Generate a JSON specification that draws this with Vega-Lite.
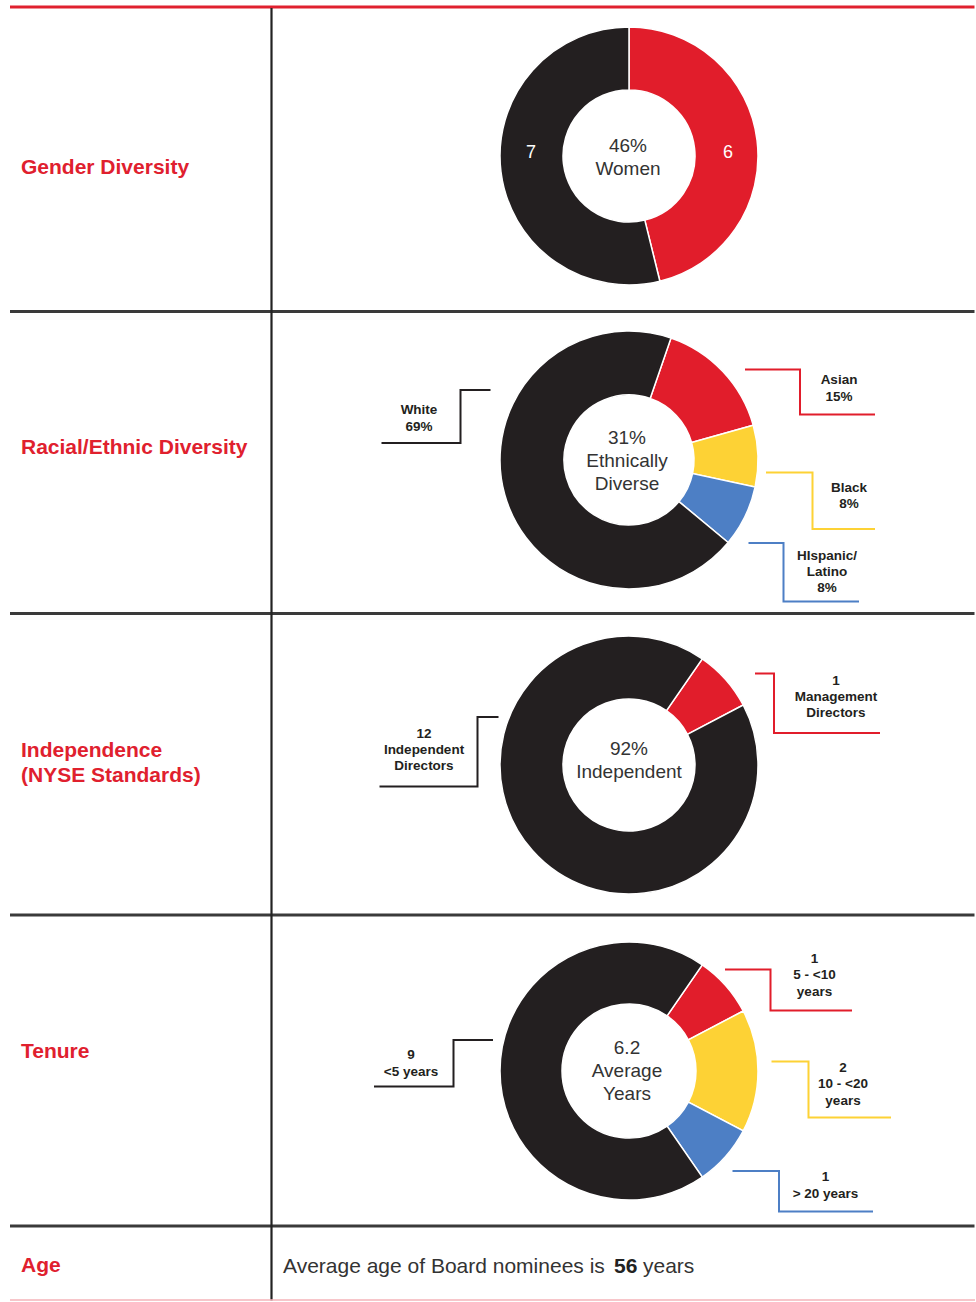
{
  "$schema": "https://vega.github.io/schema/vega-lite/v6.json",
  "width": 976,
  "height": 1302,
  "autosize": {"type": "fit", "contains": "padding"},
  "padding": 0,
  "background": "white",
  "config": {"view": {"stroke": null}, "font": "Liberation Sans"},
  "datasets": {
    "table": [
      {"kind": "red", "x1": 10, "x2": 974.5, "y1": 7, "y2": 7},
      {"kind": "dark", "x1": 10, "x2": 974.5, "y1": 311.5, "y2": 311.5},
      {"kind": "dark", "x1": 10, "x2": 974.5, "y1": 613.5, "y2": 613.5},
      {"kind": "dark", "x1": 10, "x2": 974.5, "y1": 915, "y2": 915},
      {"kind": "dark", "x1": 10, "x2": 974.5, "y1": 1226, "y2": 1226},
      {"kind": "vert", "x1": 271.5, "x2": 271.5, "y1": 8, "y2": 1300.5},
      {"kind": "pink", "x1": 10, "x2": 975, "y1": 1300, "y2": 1300}
    ],
    "panels": [
      {"chart": "gender", "cx": 629, "cy": 156},
      {"chart": "race", "cx": 629, "cy": 460},
      {"chart": "indep", "cx": 629, "cy": 765},
      {"chart": "tenure", "cx": 629, "cy": 1071}
    ],
    "segments": [
      {"chart": "gender", "seg": "Women", "n": 6, "ord": 1},
      {"chart": "gender", "seg": "Men", "n": 7, "ord": 2},
      {"chart": "race", "seg": "Asian", "n": 2, "ord": 1},
      {"chart": "race", "seg": "Black", "n": 1, "ord": 2},
      {"chart": "race", "seg": "Hispanic/Latino", "n": 1, "ord": 3},
      {"chart": "race", "seg": "White", "n": 9, "ord": 4},
      {"chart": "indep", "seg": "Management", "n": 1, "ord": 1},
      {"chart": "indep", "seg": "Independent", "n": 12, "ord": 2},
      {"chart": "tenure", "seg": "5 - <10 years", "n": 1, "ord": 1},
      {"chart": "tenure", "seg": "10 - <20 years", "n": 2, "ord": 2},
      {"chart": "tenure", "seg": "> 20 years", "n": 1, "ord": 3},
      {"chart": "tenure", "seg": "<5 years", "n": 9, "ord": 4}
    ],
    "callouts": [
      {"seg": "White", "seq": 1, "x": 490.5, "y": 390},
      {"seg": "White", "seq": 2, "x": 460.5, "y": 390},
      {"seg": "White", "seq": 3, "x": 460.5, "y": 443},
      {"seg": "White", "seq": 4, "x": 381.5, "y": 443},
      {"seg": "Asian", "seq": 1, "x": 745, "y": 369.5},
      {"seg": "Asian", "seq": 2, "x": 800, "y": 369.5},
      {"seg": "Asian", "seq": 3, "x": 800, "y": 414.5},
      {"seg": "Asian", "seq": 4, "x": 875, "y": 414.5},
      {"seg": "Black", "seq": 1, "x": 766, "y": 472.5},
      {"seg": "Black", "seq": 2, "x": 812.5, "y": 472.5},
      {"seg": "Black", "seq": 3, "x": 812.5, "y": 529},
      {"seg": "Black", "seq": 4, "x": 875, "y": 529},
      {"seg": "Hispanic/Latino", "seq": 1, "x": 748.5, "y": 543},
      {"seg": "Hispanic/Latino", "seq": 2, "x": 783.5, "y": 543},
      {"seg": "Hispanic/Latino", "seq": 3, "x": 783.5, "y": 601.5},
      {"seg": "Hispanic/Latino", "seq": 4, "x": 859, "y": 601.5},
      {"seg": "Independent", "seq": 1, "x": 498.5, "y": 717},
      {"seg": "Independent", "seq": 2, "x": 477.5, "y": 717},
      {"seg": "Independent", "seq": 3, "x": 477.5, "y": 786.5},
      {"seg": "Independent", "seq": 4, "x": 379.5, "y": 786.5},
      {"seg": "Management", "seq": 1, "x": 755, "y": 673.5},
      {"seg": "Management", "seq": 2, "x": 774, "y": 673.5},
      {"seg": "Management", "seq": 3, "x": 774, "y": 733},
      {"seg": "Management", "seq": 4, "x": 880, "y": 733},
      {"seg": "<5 years", "seq": 1, "x": 493, "y": 1040},
      {"seg": "<5 years", "seq": 2, "x": 453.5, "y": 1040},
      {"seg": "<5 years", "seq": 3, "x": 453.5, "y": 1086.5},
      {"seg": "<5 years", "seq": 4, "x": 374, "y": 1086.5},
      {"seg": "5 - <10 years", "seq": 1, "x": 725, "y": 969.5},
      {"seg": "5 - <10 years", "seq": 2, "x": 770.5, "y": 969.5},
      {"seg": "5 - <10 years", "seq": 3, "x": 770.5, "y": 1010.5},
      {"seg": "5 - <10 years", "seq": 4, "x": 852, "y": 1010.5},
      {"seg": "10 - <20 years", "seq": 1, "x": 771.5, "y": 1061.5},
      {"seg": "10 - <20 years", "seq": 2, "x": 808.5, "y": 1061.5},
      {"seg": "10 - <20 years", "seq": 3, "x": 808.5, "y": 1117.5},
      {"seg": "10 - <20 years", "seq": 4, "x": 891, "y": 1117.5},
      {"seg": "> 20 years", "seq": 1, "x": 732.5, "y": 1171},
      {"seg": "> 20 years", "seq": 2, "x": 779, "y": 1171},
      {"seg": "> 20 years", "seq": 3, "x": 779, "y": 1211.5},
      {"seg": "> 20 years", "seq": 4, "x": 873, "y": 1211.5}
    ],
    "texts": [
      {"role": "side", "text": "Gender Diversity", "x": 21, "y": 168},
      {"role": "side", "text": "Racial/Ethnic Diversity", "x": 21, "y": 448},
      {"role": "side", "text": "Independence", "x": 21, "y": 750.5},
      {"role": "side", "text": "(NYSE Standards)", "x": 21, "y": 775.5},
      {"role": "side", "text": "Tenure", "x": 21, "y": 1052},
      {"role": "side", "text": "Age", "x": 21, "y": 1265.5},
      {"role": "center", "text": "46%", "x": 628, "y": 146},
      {"role": "center", "text": "Women", "x": 628, "y": 168.5},
      {"role": "center", "text": "31%", "x": 627, "y": 437.5},
      {"role": "center", "text": "Ethnically", "x": 627, "y": 460.5},
      {"role": "center", "text": "Diverse", "x": 627, "y": 483.5},
      {"role": "center", "text": "92%", "x": 629, "y": 748.5},
      {"role": "center", "text": "Independent", "x": 629, "y": 771.5},
      {"role": "center", "text": "6.2", "x": 627, "y": 1047.5},
      {"role": "center", "text": "Average", "x": 627, "y": 1070.5},
      {"role": "center", "text": "Years", "x": 627, "y": 1093.5},
      {"role": "count", "text": "7", "x": 531, "y": 153},
      {"role": "count", "text": "6", "x": 728, "y": 153},
      {"role": "callout", "text": "White", "x": 419, "y": 410},
      {"role": "callout", "text": "69%", "x": 419, "y": 426.5},
      {"role": "callout", "text": "Asian", "x": 839, "y": 380},
      {"role": "callout", "text": "15%", "x": 839, "y": 397},
      {"role": "callout", "text": "Black", "x": 849, "y": 487.5},
      {"role": "callout", "text": "8%", "x": 849, "y": 503.5},
      {"role": "callout", "text": "HIspanic/", "x": 827, "y": 556},
      {"role": "callout", "text": "Latino", "x": 827, "y": 572},
      {"role": "callout", "text": "8%", "x": 827, "y": 588},
      {"role": "callout", "text": "12", "x": 424, "y": 733.5},
      {"role": "callout", "text": "Independent", "x": 424, "y": 750},
      {"role": "callout", "text": "Directors", "x": 424, "y": 766},
      {"role": "callout", "text": "1", "x": 836, "y": 680.5},
      {"role": "callout", "text": "Management", "x": 836, "y": 697},
      {"role": "callout", "text": "Directors", "x": 836, "y": 713},
      {"role": "callout", "text": "9", "x": 411, "y": 1054.5},
      {"role": "callout", "text": "<5 years", "x": 411, "y": 1071.5},
      {"role": "callout", "text": "1", "x": 814.5, "y": 958.5},
      {"role": "callout", "text": "5 - <10", "x": 814.5, "y": 975},
      {"role": "callout", "text": "years", "x": 814.5, "y": 991.5},
      {"role": "callout", "text": "2", "x": 843, "y": 1067.5},
      {"role": "callout", "text": "10 - <20", "x": 843, "y": 1084},
      {"role": "callout", "text": "years", "x": 843, "y": 1100.5},
      {"role": "callout", "text": "1", "x": 825.5, "y": 1177},
      {"role": "callout", "text": "> 20 years", "x": 825.5, "y": 1193.5},
      {"role": "age", "text": "Average age of Board nominees is", "x": 283, "y": 1267},
      {"role": "agebold", "text": "56", "x": 614, "y": 1267},
      {"role": "age", "text": "years", "x": 643, "y": 1267}
    ]
  },
  "layer": [
    {
      "data": {"name": "table"},
      "transform": [{"filter": "datum.kind === 'red'"}],
      "mark": {"type": "rule", "color": "#e0202e", "strokeWidth": 3},
      "encoding": {
        "x": {"field": "x1", "type": "quantitative", "axis": null, "scale": {"domain": [0, 976], "nice": false, "zero": false}},
        "x2": {"field": "x2"},
        "y": {"field": "y1", "type": "quantitative", "axis": null, "scale": {"domain": [0, 1302], "nice": false, "zero": false, "reverse": true}},
        "y2": {"field": "y2"}
      }
    },
    {
      "data": {"name": "table"},
      "transform": [{"filter": "datum.kind === 'dark'"}],
      "mark": {"type": "rule", "color": "#3a3a3a", "strokeWidth": 3},
      "encoding": {
        "x": {"field": "x1", "type": "quantitative", "axis": null, "scale": {"domain": [0, 976], "nice": false, "zero": false}},
        "x2": {"field": "x2"},
        "y": {"field": "y1", "type": "quantitative", "axis": null, "scale": {"domain": [0, 1302], "nice": false, "zero": false, "reverse": true}},
        "y2": {"field": "y2"}
      }
    },
    {
      "data": {"name": "table"},
      "transform": [{"filter": "datum.kind === 'vert'"}],
      "mark": {"type": "rule", "color": "#222222", "strokeWidth": 2.2},
      "encoding": {
        "x": {"field": "x1", "type": "quantitative", "axis": null, "scale": {"domain": [0, 976], "nice": false, "zero": false}},
        "x2": {"field": "x2"},
        "y": {"field": "y1", "type": "quantitative", "axis": null, "scale": {"domain": [0, 1302], "nice": false, "zero": false, "reverse": true}},
        "y2": {"field": "y2"}
      }
    },
    {
      "data": {"name": "table"},
      "transform": [{"filter": "datum.kind === 'pink'"}],
      "mark": {"type": "rule", "color": "#f5b3b8", "strokeWidth": 1.5},
      "encoding": {
        "x": {"field": "x1", "type": "quantitative", "axis": null, "scale": {"domain": [0, 976], "nice": false, "zero": false}},
        "x2": {"field": "x2"},
        "y": {"field": "y1", "type": "quantitative", "axis": null, "scale": {"domain": [0, 1302], "nice": false, "zero": false, "reverse": true}},
        "y2": {"field": "y2"}
      }
    },
    {
      "data": {"name": "segments"},
      "transform": [
        {"filter": "datum.chart === 'gender'"},
        {"lookup": "chart", "from": {"data": {"name": "panels"}, "key": "chart", "fields": ["cx", "cy"]}},
        {"stack": "n", "groupby": ["chart"], "sort": [{"field": "ord", "order": "ascending"}], "as": ["a0", "a1"]}
      ],
      "mark": {"type": "arc", "outerRadius": 129, "innerRadius": 66, "stroke": "white", "strokeWidth": 1.5},
      "encoding": {
        "x": {"field": "cx", "type": "quantitative", "axis": null, "scale": {"domain": [0, 976], "nice": false, "zero": false}},
        "y": {"field": "cy", "type": "quantitative", "axis": null, "scale": {"domain": [0, 1302], "nice": false, "zero": false, "reverse": true}},
        "theta": {"field": "a0", "type": "quantitative", "scale": {"domain": [0, 13], "range": [0, 6.28319]}},
        "theta2": {"field": "a1"},
        "color": {"field": "seg", "type": "nominal", "legend": null,
          "scale": {"domain": ["Women", "Men", "White", "Asian", "Black", "Hispanic/Latino", "Independent", "Management", "<5 years", "5 - <10 years", "10 - <20 years", "> 20 years"],
                    "range": ["#e11d2b", "#231f20", "#231f20", "#e11d2b", "#fdd235", "#4d7fc5", "#231f20", "#e11d2b", "#231f20", "#e11d2b", "#fdd235", "#4d7fc5"]}}
      }
    },
    {
      "data": {"name": "segments"},
      "transform": [
        {"filter": "datum.chart === 'race'"},
        {"lookup": "chart", "from": {"data": {"name": "panels"}, "key": "chart", "fields": ["cx", "cy"]}},
        {"stack": "n", "groupby": ["chart"], "sort": [{"field": "ord", "order": "ascending"}], "as": ["a0", "a1"]}
      ],
      "mark": {"type": "arc", "outerRadius": 129, "innerRadius": 65, "stroke": "white", "strokeWidth": 1.5},
      "encoding": {
        "x": {"field": "cx", "type": "quantitative", "axis": null, "scale": {"domain": [0, 976], "nice": false, "zero": false}},
        "y": {"field": "cy", "type": "quantitative", "axis": null, "scale": {"domain": [0, 1302], "nice": false, "zero": false, "reverse": true}},
        "theta": {"field": "a0", "type": "quantitative", "scale": {"domain": [0, 13], "range": [0.3316, 6.6148]}},
        "theta2": {"field": "a1"},
        "color": {"field": "seg", "type": "nominal", "legend": null,
          "scale": {"domain": ["Women", "Men", "White", "Asian", "Black", "Hispanic/Latino", "Independent", "Management", "<5 years", "5 - <10 years", "10 - <20 years", "> 20 years"],
                    "range": ["#e11d2b", "#231f20", "#231f20", "#e11d2b", "#fdd235", "#4d7fc5", "#231f20", "#e11d2b", "#231f20", "#e11d2b", "#fdd235", "#4d7fc5"]}}
      }
    },
    {
      "data": {"name": "segments"},
      "transform": [
        {"filter": "datum.chart === 'indep'"},
        {"lookup": "chart", "from": {"data": {"name": "panels"}, "key": "chart", "fields": ["cx", "cy"]}},
        {"stack": "n", "groupby": ["chart"], "sort": [{"field": "ord", "order": "ascending"}], "as": ["a0", "a1"]}
      ],
      "mark": {"type": "arc", "outerRadius": 129, "innerRadius": 66, "stroke": "white", "strokeWidth": 1.5},
      "encoding": {
        "x": {"field": "cx", "type": "quantitative", "axis": null, "scale": {"domain": [0, 976], "nice": false, "zero": false}},
        "y": {"field": "cy", "type": "quantitative", "axis": null, "scale": {"domain": [0, 1302], "nice": false, "zero": false, "reverse": true}},
        "theta": {"field": "a0", "type": "quantitative", "scale": {"domain": [0, 13], "range": [0.6039, 6.8871]}},
        "theta2": {"field": "a1"},
        "color": {"field": "seg", "type": "nominal", "legend": null,
          "scale": {"domain": ["Women", "Men", "White", "Asian", "Black", "Hispanic/Latino", "Independent", "Management", "<5 years", "5 - <10 years", "10 - <20 years", "> 20 years"],
                    "range": ["#e11d2b", "#231f20", "#231f20", "#e11d2b", "#fdd235", "#4d7fc5", "#231f20", "#e11d2b", "#231f20", "#e11d2b", "#fdd235", "#4d7fc5"]}}
      }
    },
    {
      "data": {"name": "segments"},
      "transform": [
        {"filter": "datum.chart === 'tenure'"},
        {"lookup": "chart", "from": {"data": {"name": "panels"}, "key": "chart", "fields": ["cx", "cy"]}},
        {"stack": "n", "groupby": ["chart"], "sort": [{"field": "ord", "order": "ascending"}], "as": ["a0", "a1"]}
      ],
      "mark": {"type": "arc", "outerRadius": 129, "innerRadius": 67, "stroke": "white", "strokeWidth": 1.5},
      "encoding": {
        "x": {"field": "cx", "type": "quantitative", "axis": null, "scale": {"domain": [0, 976], "nice": false, "zero": false}},
        "y": {"field": "cy", "type": "quantitative", "axis": null, "scale": {"domain": [0, 1302], "nice": false, "zero": false, "reverse": true}},
        "theta": {"field": "a0", "type": "quantitative", "scale": {"domain": [0, 13], "range": [0.6039, 6.8871]}},
        "theta2": {"field": "a1"},
        "color": {"field": "seg", "type": "nominal", "legend": null,
          "scale": {"domain": ["Women", "Men", "White", "Asian", "Black", "Hispanic/Latino", "Independent", "Management", "<5 years", "5 - <10 years", "10 - <20 years", "> 20 years"],
                    "range": ["#e11d2b", "#231f20", "#231f20", "#e11d2b", "#fdd235", "#4d7fc5", "#231f20", "#e11d2b", "#231f20", "#e11d2b", "#fdd235", "#4d7fc5"]}}
      }
    },
    {
      "data": {"name": "callouts"},
      "mark": {"type": "line", "strokeWidth": 2, "interpolate": "linear"},
      "encoding": {
        "x": {"field": "x", "type": "quantitative", "axis": null, "scale": {"domain": [0, 976], "nice": false, "zero": false}},
        "y": {"field": "y", "type": "quantitative", "axis": null, "scale": {"domain": [0, 1302], "nice": false, "zero": false, "reverse": true}},
        "order": {"field": "seq", "type": "quantitative"},
        "color": {"field": "seg", "type": "nominal", "legend": null,
          "scale": {"domain": ["Women", "Men", "White", "Asian", "Black", "Hispanic/Latino", "Independent", "Management", "<5 years", "5 - <10 years", "10 - <20 years", "> 20 years"],
                    "range": ["#e11d2b", "#231f20", "#231f20", "#e11d2b", "#fdd235", "#4d7fc5", "#231f20", "#e11d2b", "#231f20", "#e11d2b", "#fdd235", "#4d7fc5"]}}
      }
    },
    {
      "data": {"name": "texts"},
      "transform": [{"filter": "datum.role === 'side'"}],
      "mark": {"type": "text", "align": "left", "baseline": "middle", "font": "Liberation Sans", "fontWeight": "bold", "fontSize": 21, "color": "#e0202e"},
      "encoding": {
        "x": {"field": "x", "type": "quantitative", "axis": null, "scale": {"domain": [0, 976], "nice": false, "zero": false}},
        "y": {"field": "y", "type": "quantitative", "axis": null, "scale": {"domain": [0, 1302], "nice": false, "zero": false, "reverse": true}},
        "text": {"field": "text"}
      }
    },
    {
      "data": {"name": "texts"},
      "transform": [{"filter": "datum.role === 'center'"}],
      "mark": {"type": "text", "align": "center", "baseline": "middle", "font": "Liberation Sans", "fontSize": 19, "color": "#333333"},
      "encoding": {
        "x": {"field": "x", "type": "quantitative", "axis": null, "scale": {"domain": [0, 976], "nice": false, "zero": false}},
        "y": {"field": "y", "type": "quantitative", "axis": null, "scale": {"domain": [0, 1302], "nice": false, "zero": false, "reverse": true}},
        "text": {"field": "text"}
      }
    },
    {
      "data": {"name": "texts"},
      "transform": [{"filter": "datum.role === 'count'"}],
      "mark": {"type": "text", "align": "center", "baseline": "middle", "font": "Liberation Sans", "fontSize": 18, "color": "#ffffff"},
      "encoding": {
        "x": {"field": "x", "type": "quantitative", "axis": null, "scale": {"domain": [0, 976], "nice": false, "zero": false}},
        "y": {"field": "y", "type": "quantitative", "axis": null, "scale": {"domain": [0, 1302], "nice": false, "zero": false, "reverse": true}},
        "text": {"field": "text"}
      }
    },
    {
      "data": {"name": "texts"},
      "transform": [{"filter": "datum.role === 'callout'"}],
      "mark": {"type": "text", "align": "center", "baseline": "middle", "font": "Liberation Sans", "fontWeight": "bold", "fontSize": 13.5, "color": "#231f20"},
      "encoding": {
        "x": {"field": "x", "type": "quantitative", "axis": null, "scale": {"domain": [0, 976], "nice": false, "zero": false}},
        "y": {"field": "y", "type": "quantitative", "axis": null, "scale": {"domain": [0, 1302], "nice": false, "zero": false, "reverse": true}},
        "text": {"field": "text"}
      }
    },
    {
      "data": {"name": "texts"},
      "transform": [{"filter": "datum.role === 'age'"}],
      "mark": {"type": "text", "align": "left", "baseline": "middle", "font": "Liberation Sans", "fontSize": 21, "color": "#333333"},
      "encoding": {
        "x": {"field": "x", "type": "quantitative", "axis": null, "scale": {"domain": [0, 976], "nice": false, "zero": false}},
        "y": {"field": "y", "type": "quantitative", "axis": null, "scale": {"domain": [0, 1302], "nice": false, "zero": false, "reverse": true}},
        "text": {"field": "text"}
      }
    },
    {
      "data": {"name": "texts"},
      "transform": [{"filter": "datum.role === 'agebold'"}],
      "mark": {"type": "text", "align": "left", "baseline": "middle", "font": "Liberation Sans", "fontWeight": "bold", "fontSize": 21, "color": "#222222"},
      "encoding": {
        "x": {"field": "x", "type": "quantitative", "axis": null, "scale": {"domain": [0, 976], "nice": false, "zero": false}},
        "y": {"field": "y", "type": "quantitative", "axis": null, "scale": {"domain": [0, 1302], "nice": false, "zero": false, "reverse": true}},
        "text": {"field": "text"}
      }
    }
  ],
  "resolve": {"scale": {"theta": "independent"}}
}
